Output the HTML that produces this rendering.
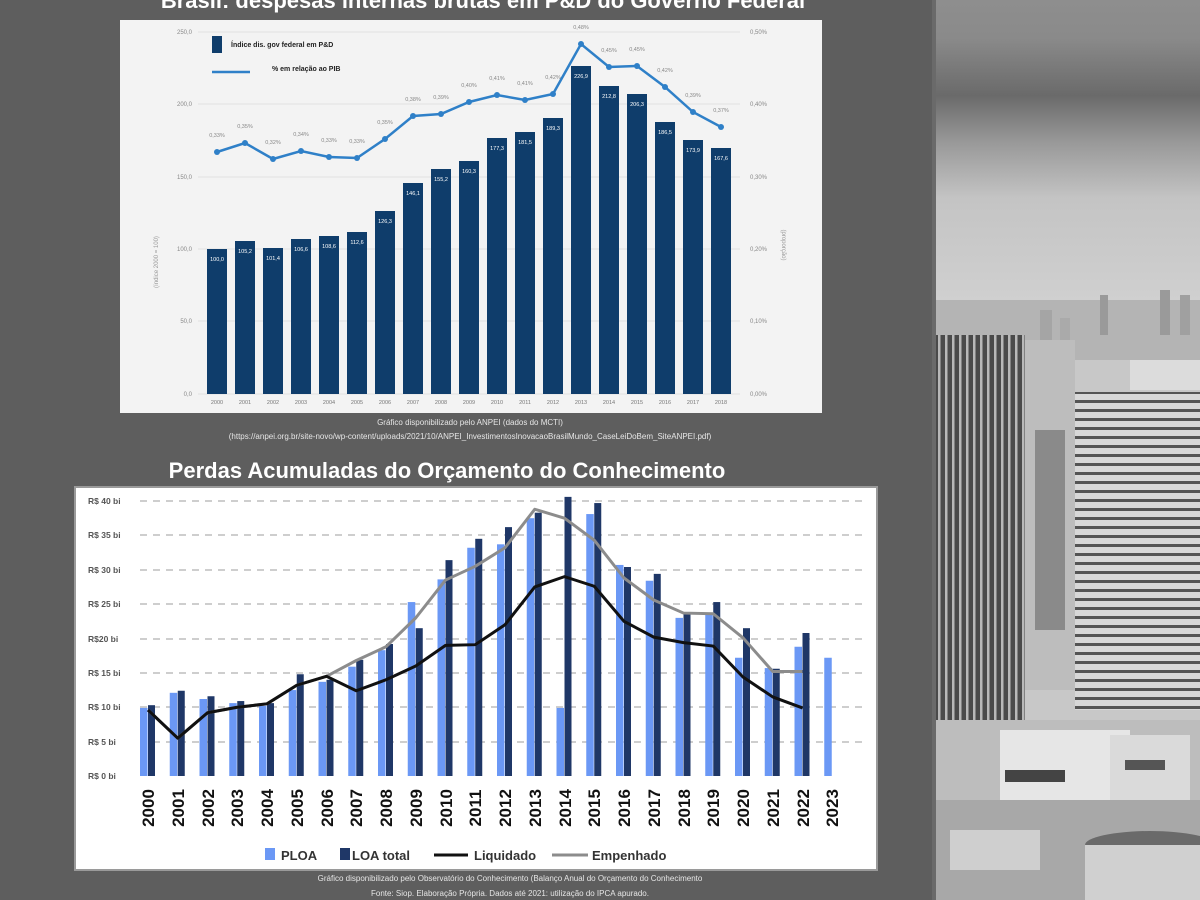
<!DOCTYPE html>
<html><head><meta charset="utf-8"><style>
html,body{margin:0;padding:0;}
body{width:1200px;height:900px;overflow:hidden;background:#5e5e5e;position:relative;font-family:"Liberation Sans",sans-serif;}
svg{position:absolute;left:0;top:0;}
</style></head><body>
<svg width="1200" height="900" viewBox="0 0 1200 900" xmlns="http://www.w3.org/2000/svg" font-family="Liberation Sans, sans-serif">
<defs>
<linearGradient id="sky" x1="0" y1="0" x2="0" y2="1">
<stop offset="0" stop-color="#8e8e8e"/><stop offset="0.12" stop-color="#8a8a8a"/>
<stop offset="0.3" stop-color="#6a6a6a"/><stop offset="0.45" stop-color="#9a9a9a"/>
<stop offset="0.62" stop-color="#c4c4c4"/><stop offset="1" stop-color="#d2d2d2"/>
</linearGradient>
<pattern id="win" width="7" height="5" patternUnits="userSpaceOnUse"><rect width="7" height="5" fill="#4a4a4a"/><rect x="0" y="0" width="2.5" height="5" fill="#b8b8b8"/></pattern>
<pattern id="win2" width="8" height="9" patternUnits="userSpaceOnUse"><rect width="8" height="9" fill="#d8d8d8"/><rect x="0" y="4" width="8" height="3" fill="#555"/></pattern>
</defs>
<rect x="935" y="0" width="265" height="900" fill="#c8c8c8"/>
<rect x="935" y="0" width="265" height="320" fill="url(#sky)"/>
<rect x="935" y="300" width="265" height="60" fill="#b4b4b4"/>
<rect x="1100" y="295" width="8" height="40" fill="#9a9a9a"/><rect x="1160" y="290" width="10" height="45" fill="#9a9a9a"/><rect x="1180" y="295" width="10" height="40" fill="#a0a0a0"/>
<rect x="1040" y="310" width="12" height="30" fill="#a5a5a5"/><rect x="1060" y="318" width="10" height="25" fill="#aaa"/>
<rect x="1025" y="340" width="50" height="350" fill="#bdbdbd"/>
<rect x="1035" y="430" width="30" height="200" fill="#8a8a8a"/>
<rect x="935" y="335" width="90" height="395" fill="url(#win)"/>
<rect x="1130" y="360" width="70" height="30" fill="#dcdcdc"/>
<rect x="1075" y="392" width="125" height="318" fill="url(#win2)"/>
<rect x="935" y="720" width="265" height="180" fill="#bdbdbd"/>
<rect x="1000" y="730" width="130" height="70" fill="#e6e6e6"/><rect x="1005" y="770" width="60" height="12" fill="#444"/>
<rect x="1110" y="735" width="80" height="80" fill="#dadada"/><rect x="1125" y="760" width="40" height="10" fill="#555"/>
<rect x="935" y="800" width="265" height="100" fill="#a8a8a8"/>
<ellipse cx="1150" cy="845" rx="65" ry="14" fill="#6a6a6a"/><rect x="1085" y="845" width="115" height="55" fill="#d0d0d0"/>
<rect x="950" y="830" width="90" height="40" fill="#cfcfcf"/>
<rect x="932" y="0" width="4" height="900" fill="#6a6a6a"/>

<text x="483" y="8" font-size="22" font-weight="bold" fill="#fff" text-anchor="middle">Brasil: despesas internas brutas em P&amp;D do Governo Federal</text>

<rect x="120" y="20" width="702" height="393" fill="#f3f3f3"/>
<g stroke="#e2e2e2" stroke-width="1">
<line x1="198" y1="32" x2="740" y2="32"/><line x1="198" y1="104" x2="740" y2="104"/><line x1="198" y1="177" x2="740" y2="177"/><line x1="198" y1="249" x2="740" y2="249"/><line x1="198" y1="321" x2="740" y2="321"/><line x1="198" y1="394" x2="740" y2="394"/>
</g>
<g font-size="6" fill="#888" text-anchor="end">
<text x="192" y="34">250,0</text><text x="192" y="106">200,0</text><text x="192" y="179">150,0</text><text x="192" y="251">100,0</text><text x="192" y="323">50,0</text><text x="192" y="396">0,0</text>
</g>
<g font-size="6" fill="#888">
<text x="750" y="34">0,50%</text><text x="750" y="106">0,40%</text><text x="750" y="179">0,30%</text><text x="750" y="251">0,20%</text><text x="750" y="323">0,10%</text><text x="750" y="396">0,00%</text>
</g>
<text transform="translate(158,262) rotate(-90)" font-size="6" fill="#999" text-anchor="middle">(índice 2000 = 100)</text>
<text transform="translate(782,245) rotate(90)" font-size="6" fill="#999" text-anchor="middle">(proporção)</text>
<g id="bars1" fill="#0f3d6b"></g>
<polyline id="line1" fill="none" stroke="#2f80c8" stroke-width="2.5"/>
<g id="dots1" fill="#2f80c8"></g>
<g font-size="5.5" fill="#fff" text-anchor="middle">
<text x="217" y="261">100,0</text><text x="245" y="253">105,2</text><text x="273" y="260">101,4</text><text x="301" y="251">106,6</text><text x="329" y="248">108,6</text><text x="357" y="244">112,6</text><text x="385" y="223">126,3</text><text x="413" y="195">146,1</text><text x="441" y="181">155,2</text><text x="469" y="173">160,3</text><text x="497" y="150">177,3</text><text x="525" y="144">181,5</text><text x="553" y="130">189,3</text><text x="581" y="78">226,9</text><text x="609" y="98">212,8</text><text x="637" y="106">206,3</text><text x="665" y="134">186,5</text><text x="693" y="152">173,9</text><text x="721" y="160">167,6</text>
</g>
<g font-size="5.5" fill="#888" text-anchor="middle">
<text x="217" y="137">0,33%</text><text x="245" y="128">0,35%</text><text x="273" y="144">0,32%</text><text x="301" y="136">0,34%</text><text x="329" y="142">0,33%</text><text x="357" y="143">0,33%</text><text x="385" y="124">0,35%</text><text x="413" y="101">0,38%</text><text x="441" y="99">0,39%</text><text x="469" y="87">0,40%</text><text x="497" y="80">0,41%</text><text x="525" y="85">0,41%</text><text x="553" y="79">0,42%</text><text x="581" y="29">0,48%</text><text x="609" y="52">0,45%</text><text x="637" y="51">0,45%</text><text x="665" y="72">0,42%</text><text x="693" y="97">0,39%</text><text x="721" y="112">0,37%</text>
</g>
<g font-size="5.5" fill="#777" text-anchor="middle">
<text x="217" y="404">2000</text><text x="245" y="404">2001</text><text x="273" y="404">2002</text><text x="301" y="404">2003</text><text x="329" y="404">2004</text><text x="357" y="404">2005</text><text x="385" y="404">2006</text><text x="413" y="404">2007</text><text x="441" y="404">2008</text><text x="469" y="404">2009</text><text x="497" y="404">2010</text><text x="525" y="404">2011</text><text x="553" y="404">2012</text><text x="581" y="404">2013</text><text x="609" y="404">2014</text><text x="637" y="404">2015</text><text x="665" y="404">2016</text><text x="693" y="404">2017</text><text x="721" y="404">2018</text>
</g>
<rect x="212" y="36" width="10" height="17" fill="#0f3d6b"/>
<text x="231" y="47" font-size="7" font-weight="bold" fill="#222">Índice dis. gov federal em P&amp;D</text>
<line x1="212" y1="72" x2="250" y2="72" stroke="#2f80c8" stroke-width="2.5"/>
<text x="272" y="71" font-size="7" font-weight="bold" fill="#222">% em relação ao PIB</text>

<g font-size="8" fill="#e6e6e6" text-anchor="middle">
<text x="470" y="425">Gráfico disponibilizado pelo ANPEI (dados do MCTI)</text>
<text x="470" y="439">(https://anpei.org.br/site-novo/wp-content/uploads/2021/10/ANPEI_InvestimentosInovacaoBrasilMundo_CaseLeiDoBem_SiteANPEI.pdf)</text>
</g>

<text x="447" y="478" font-size="22" font-weight="bold" fill="#fff" text-anchor="middle">Perdas Acumuladas do Orçamento do Conhecimento</text>

<rect x="75" y="487" width="802" height="383" fill="#fff" stroke="#9a9a9a" stroke-width="2"/>
<g stroke="#bdbdbd" stroke-width="1.5" stroke-dasharray="7,6">
<line x1="140" y1="501" x2="862" y2="501"/><line x1="140" y1="535" x2="862" y2="535"/><line x1="140" y1="570" x2="862" y2="570"/><line x1="140" y1="604" x2="862" y2="604"/><line x1="140" y1="639" x2="862" y2="639"/><line x1="140" y1="673" x2="862" y2="673"/><line x1="140" y1="707" x2="862" y2="707"/><line x1="140" y1="742" x2="862" y2="742"/>
</g>
<g font-size="8.5" font-weight="bold" fill="#555">
<text x="88" y="504">R$ 40 bi</text><text x="88" y="538">R$ 35 bi</text><text x="88" y="573">R$ 30 bi</text><text x="88" y="607">R$ 25 bi</text><text x="88" y="642">R$20 bi</text><text x="88" y="676">R$ 15 bi</text><text x="88" y="710">R$ 10 bi</text><text x="88" y="745">R$ 5 bi</text><text x="88" y="779">R$ 0 bi</text>
</g>
<g id="bars2"></g>
<polyline id="emp" fill="none" stroke="#8c8c8c" stroke-width="3" stroke-linejoin="round"/>
<polyline id="liq" fill="none" stroke="#111" stroke-width="3" stroke-linejoin="round"/>
<g font-size="17" font-weight="bold" fill="#111" text-anchor="middle">
<text transform="translate(154,808) rotate(-90)">2000</text><text transform="translate(184,808) rotate(-90)">2001</text><text transform="translate(214,808) rotate(-90)">2002</text><text transform="translate(243,808) rotate(-90)">2003</text><text transform="translate(273,808) rotate(-90)">2004</text><text transform="translate(303,808) rotate(-90)">2005</text><text transform="translate(333,808) rotate(-90)">2006</text><text transform="translate(362,808) rotate(-90)">2007</text><text transform="translate(392,808) rotate(-90)">2008</text><text transform="translate(422,808) rotate(-90)">2009</text><text transform="translate(452,808) rotate(-90)">2010</text><text transform="translate(481,808) rotate(-90)">2011</text><text transform="translate(511,808) rotate(-90)">2012</text><text transform="translate(541,808) rotate(-90)">2013</text><text transform="translate(571,808) rotate(-90)">2014</text><text transform="translate(600,808) rotate(-90)">2015</text><text transform="translate(630,808) rotate(-90)">2016</text><text transform="translate(660,808) rotate(-90)">2017</text><text transform="translate(690,808) rotate(-90)">2018</text><text transform="translate(719,808) rotate(-90)">2019</text><text transform="translate(749,808) rotate(-90)">2020</text><text transform="translate(779,808) rotate(-90)">2021</text><text transform="translate(809,808) rotate(-90)">2022</text><text transform="translate(838,808) rotate(-90)">2023</text>
</g>
<rect x="265" y="848" width="10" height="12" fill="#6b98f5"/>
<text x="281" y="860" font-size="13" font-weight="bold" fill="#333">PLOA</text>
<rect x="340" y="848" width="10" height="12" fill="#1f3767"/>
<text x="352" y="860" font-size="13" font-weight="bold" fill="#333">LOA total</text>
<line x1="434" y1="855" x2="468" y2="855" stroke="#111" stroke-width="3"/>
<text x="474" y="860" font-size="13" font-weight="bold" fill="#333">Liquidado</text>
<line x1="552" y1="855" x2="588" y2="855" stroke="#8c8c8c" stroke-width="3"/>
<text x="592" y="860" font-size="13" font-weight="bold" fill="#333">Empenhado</text>

<g font-size="8" fill="#e6e6e6" text-anchor="middle">
<text x="510" y="881">Gráfico disponibilizado pelo Observatório do Conhecimento (Balanço Anual do Orçamento do Conhecimento</text>
<text x="510" y="896">Fonte: Siop. Elaboração Própria. Dados até 2021: utilização do IPCA apurado.</text>
</g>
</svg>
<script>
var NS="http://www.w3.org/2000/svg";
function el(p,t,a){var e=document.createElementNS(NS,t);for(var k in a)e.setAttribute(k,a[k]);p.appendChild(e);return e;}
var tops=[249,241,248,239,236,232,211,183,169,161,138,132,118,66,86,94,122,140,148];
var ly=[152,143,159,151,157,158,139,116,114,102,95,100,94,44,67,66,87,112,127];
var b1=document.getElementById('bars1'),d1=document.getElementById('dots1'),pts=[];
for(var i=0;i<19;i++){var c=217+28*i;el(b1,'rect',{x:c-10,y:tops[i],width:20,height:394-tops[i]});pts.push(c+','+ly[i]);el(d1,'circle',{cx:c,cy:ly[i],r:3});}
document.getElementById('line1').setAttribute('points',pts.join(' '));
var P=[9.9,12.1,11.2,10.6,10.2,12.5,13.7,15.9,18.3,25.3,28.6,33.2,33.7,37.5,9.9,38.1,30.7,28.4,23,23.5,17.2,15.7,18.8,17.2];
var L=[10.3,12.4,11.6,10.9,10.6,14.8,14,16.9,19.2,21.5,31.4,34.5,36.2,38.3,40.6,39.7,30.4,29.4,23.5,25.3,21.5,15.6,20.8,null];
var Q=[9.6,5.5,9.2,10,10.5,13.2,14.5,12.4,14,16,19,19.1,22,27.5,29,27.6,22.5,20.2,19.4,18.9,14.4,11.5,9.9];
var E=[9.6,5.5,9.2,10,10.5,13.2,14.5,16.8,18.8,23,28.5,30.5,33.2,38.8,37.5,34.3,28.8,25.6,23.7,23.6,20.1,15.2,15.2];
var b2=document.getElementById('bars2'),s=6.875,qa=[],ea=[];
for(var i=0;i<24;i++){var c=148+29.75*i;
el(b2,'rect',{x:c-8,y:776-P[i]*s,width:7.5,height:P[i]*s,fill:'#6b98f5'});
if(L[i]!=null)el(b2,'rect',{x:c,y:776-L[i]*s,width:7,height:L[i]*s,fill:'#1f3767'});
if(i<23){qa.push(c+','+(776-Q[i]*s));ea.push(c+','+(776-E[i]*s));}}
document.getElementById('liq').setAttribute('points',qa.join(' '));
document.getElementById('emp').setAttribute('points',ea.join(' '));
</script>
</body></html>
